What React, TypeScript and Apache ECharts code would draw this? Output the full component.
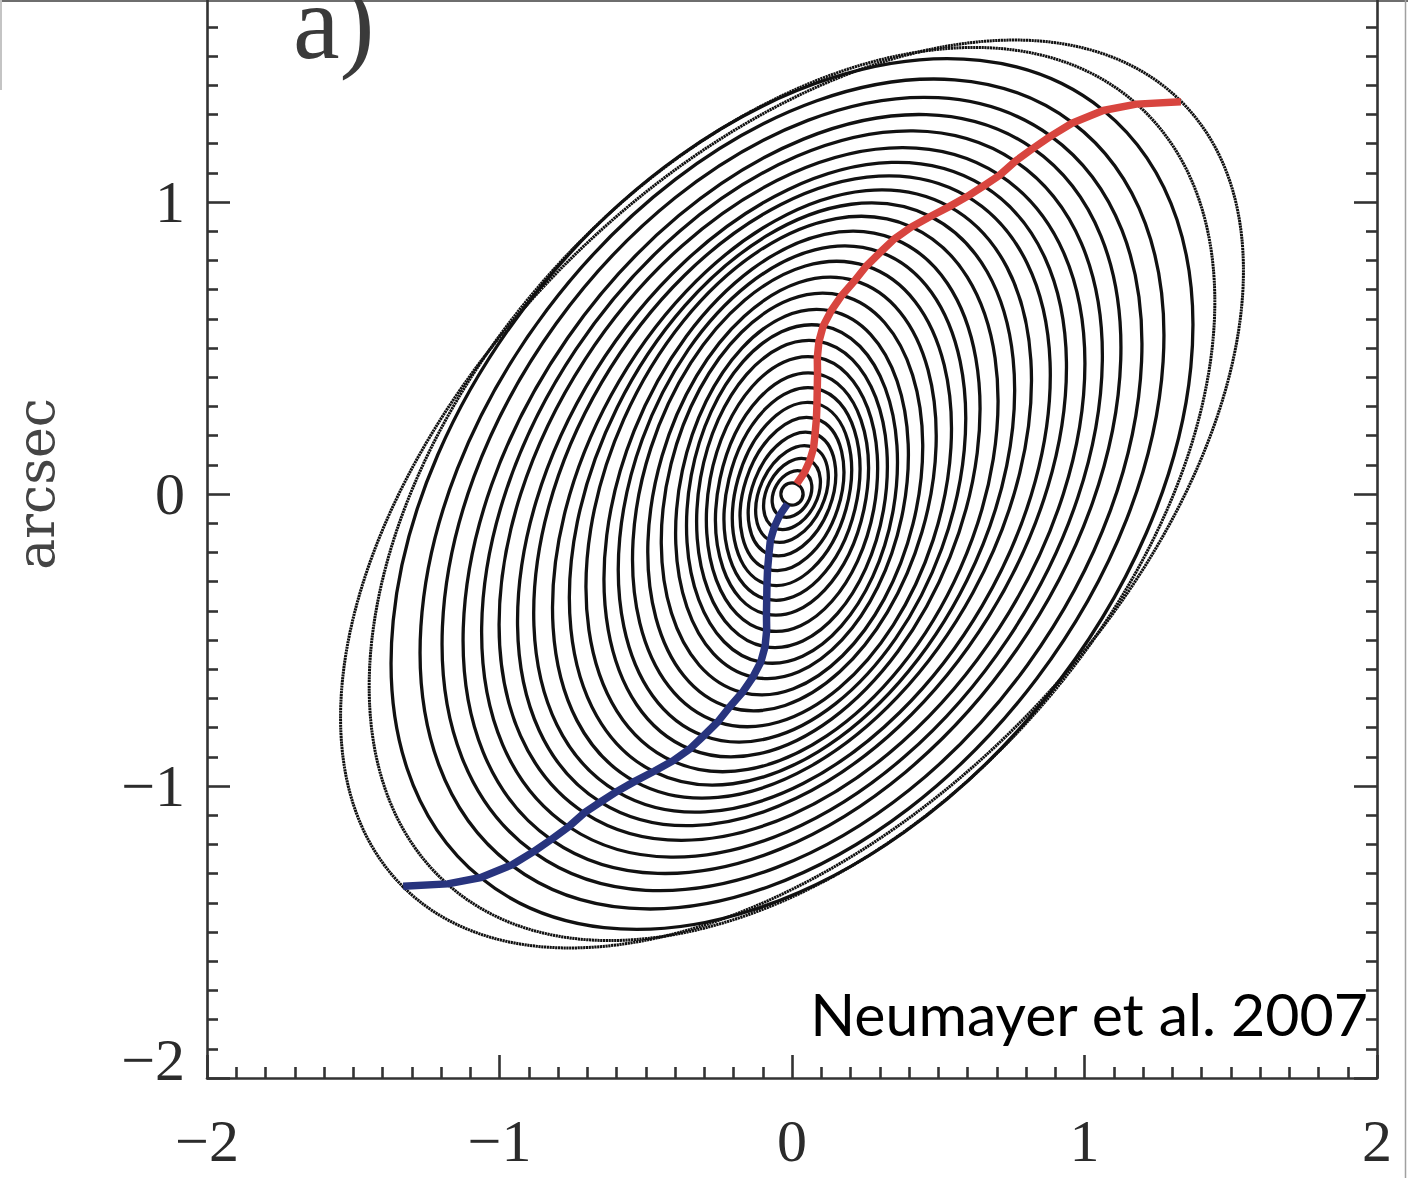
import React, { useEffect, useRef } from "react";
import * as echarts from "echarts";

// ---- data ----
// isophote ellipses: semi-major axis (arcsec), axis ratio b/a, position angle (deg, counter-clockwise from +x)
const semiMajor = [
  0.038, 0.085, 0.13, 0.175, 0.22, 0.27, 0.32, 0.37, 0.42, 0.475, 0.53, 0.585,
  0.64, 0.7, 0.76, 0.82, 0.88, 0.94, 1.0, 1.06, 1.12, 1.18, 1.24, 1.3, 1.37,
  1.44, 1.51, 1.59, 1.69, 1.78, 1.89,
];
const axisRatio = [
  1.0, 0.72, 0.66, 0.63, 0.62, 0.61, 0.6, 0.6, 0.6, 0.6, 0.6, 0.6, 0.6, 0.61,
  0.61, 0.62, 0.62, 0.62, 0.63, 0.63, 0.63, 0.64, 0.64, 0.65, 0.65, 0.65, 0.66,
  0.66, 0.66, 0.63, 0.585,
];
const posAngle = [
  65, 60, 62, 65, 69, 72, 74.5, 76.5, 78, 79.5, 80, 79.5, 78, 76, 73.7, 72, 70,
  68.2, 66, 63.6, 61.4, 59.6, 58.2, 57, 56.2, 55.2, 54.2, 53, 51, 48.6, 45.3,
];
const centerX = 0;
const centerY = 0;
const outerDottedCount = 2;

const tickValues = [-2, -1, 0, 1, 2];
const yAxisName = "arcsec";
const panelLabel = "a)";
const creditText = "Neumayer et al. 2007";

// ---- derived ----
const N = semiMajor.length;
const ellipseRows = semiMajor.map((a, i) => [
  centerX,
  centerY,
  a,
  axisRatio[i],
  posAngle[i],
  i >= N - outerDottedCount ? 1 : 0,
]);
// major-axis tips of each isophote
const redTips = semiMajor.map((a, i) => [
  centerX + a * Math.cos((posAngle[i] * Math.PI) / 180),
  centerY + a * Math.sin((posAngle[i] * Math.PI) / 180),
]);
const blueTips = semiMajor.map((a, i) => [
  centerX - a * Math.cos((posAngle[i] * Math.PI) / 180),
  centerY - a * Math.sin((posAngle[i] * Math.PI) / 180),
]);

const fmt = (v: number) => (v < 0 ? "\u2212" + Math.abs(v) : String(v));

const AXIS_COLOR = "#333";
const LABEL_FONT = "Liberation Serif";

function axisBase(extra: any) {
  return {
    type: "value",
    min: tickValues[0],
    max: tickValues[tickValues.length - 1],
    interval: 1,
    axisLine: { show: true, onZero: false, lineStyle: { color: AXIS_COLOR, width: 2.6 } },
    axisTick: { show: true, inside: true, length: 23, lineStyle: { color: AXIS_COLOR, width: 2.6 } },
    minorTick: { show: true, splitNumber: 10, length: 11, lineStyle: { color: AXIS_COLOR, width: 2.6 } },
    splitLine: { show: false },
    minorSplitLine: { show: false },
    ...extra,
  };
}

export default function App() {
  const ref = useRef<HTMLDivElement>(null);
  useEffect(() => {
    if (!ref.current) return;
    const chart = echarts.init(ref.current, null, { renderer: "svg" });
    const labelStyle = {
      fontSize: 60,
      fontFamily: LABEL_FONT,
      color: "#2b2b2b",
    };
    chart.setOption({
      animation: false,
      backgroundColor: "#ffffff",
      grid: {
        left: 207,
        right: 31,
        top: -90,
        bottom: 100,
        containLabel: false,
        outerBoundsMode: "none",
      },
      xAxis: [
        axisBase({
          position: "bottom",
          axisLabel: { ...labelStyle, margin: 33, formatter: (v: number) => fmt(v) },
        }),
        axisBase({ position: "top", axisLabel: { show: false } }),
      ],
      yAxis: [
        axisBase({
          position: "left",
          axisLabel: {
            ...labelStyle,
            margin: 22,
            formatter: (v: number) => (v === -2 ? "{up|" + fmt(v) + "}" : fmt(v)),
            rich: { up: { ...labelStyle, padding: [0, 0, 36, 0] } },
          },
        }),
        axisBase({ position: "right", axisLabel: { show: false } }),
      ],
      series: [
        {
          type: "custom",
          xAxisIndex: 0,
          yAxisIndex: 0,
          silent: true,
          encode: { x: 0, y: 1 },
          data: ellipseRows,
          renderItem: (params: any, api: any) => {
            const c = api.coord([api.value(0), api.value(1)]);
            const unit = api.size([1, 1]);
            const a = api.value(2);
            const q = api.value(3);
            const pa = api.value(4);
            const dotted = api.value(5) === 1;
            return {
              type: "ellipse",
              x: c[0],
              y: c[1],
              rotation: (pa * Math.PI) / 180,
              shape: { cx: 0, cy: 0, rx: a * unit[0], ry: a * q * unit[1] },
              style: {
                fill: "none",
                stroke: "#111",
                lineWidth: dotted ? 3 : 3.3,
                lineDash: dotted ? [2.2, 0.6] : null,
              },
            };
          },
          z: 2,
        },
        {
          type: "line",
          data: redTips,
          showSymbol: false,
          silent: true,
          lineStyle: { color: "#d8453f", width: 7.5, join: "round", cap: "butt" },
          z: 3,
        },
        {
          type: "line",
          data: blueTips,
          showSymbol: false,
          silent: true,
          lineStyle: { color: "#28347e", width: 7.5, join: "round", cap: "butt" },
          z: 3,
        },
      ],
      graphic: [
        { type: "line", shape: { x1: 0, y1: 1, x2: 1408, y2: 1 }, style: { stroke: "#6e6e6e", lineWidth: 2 }, silent: true },
        { type: "line", shape: { x1: 1, y1: 0, x2: 1, y2: 90 }, style: { stroke: "#c4c4c4", lineWidth: 2 }, silent: true },
        { type: "line", shape: { x1: 1405.5, y1: 0, x2: 1405.5, y2: 1178 }, style: { stroke: "#a0a0a0", lineWidth: 1.5 }, silent: true },
        {
          type: "text",
          x: 293,
          y: 22,
          silent: true,
          style: {
            text: panelLabel,
            fontSize: 105,
            fontFamily: LABEL_FONT,
            fill: "#3a3a3a",
            align: "left",
            verticalAlign: "middle",
            textAlign: "left",
            textVerticalAlign: "middle",
          },
        },
        {
          type: "text",
          x: 36,
          y: 484,
          rotation: Math.PI / 2,
          silent: true,
          style: {
            text: yAxisName,
            fontSize: 52,
            fontFamily: "DejaVu Serif",
            fontWeight: 200,
            fill: "#444",
            align: "center",
            verticalAlign: "middle",
            textAlign: "center",
            textVerticalAlign: "middle",
          },
        },
        {
          type: "text",
          x: 1368,
          y: 1013,
          silent: true,
          style: {
            text: creditText,
            fontSize: 59,
            fontFamily: "Lato",
            fill: "#000",
            align: "right",
            verticalAlign: "middle",
            textAlign: "right",
            textVerticalAlign: "middle",
          },
        },
      ],
    });
    return () => chart.dispose();
  }, []);
  return (
    <div
      ref={ref}
      style={{ position: "absolute", left: 0, top: 0, width: 1408, height: 1178 }}
    />
  );
}
